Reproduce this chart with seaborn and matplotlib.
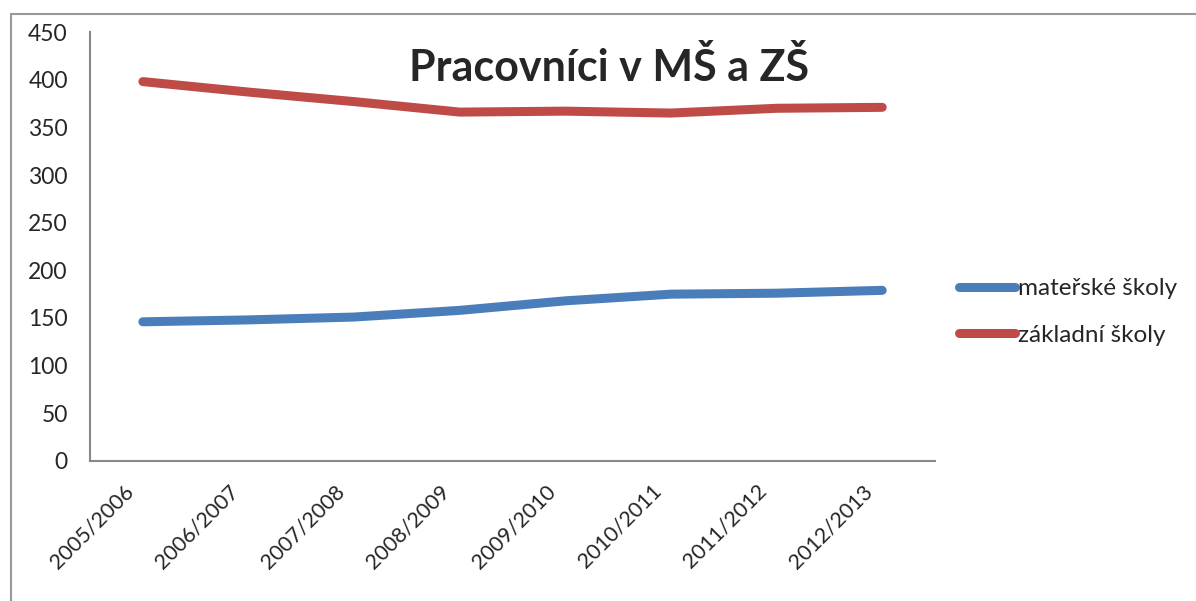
import matplotlib.pyplot as plt
import matplotlib.lines as mlines
import matplotlib.transforms as mtransforms
import numpy as np
import pandas as pd
import seaborn as sns

roky = ["2005/2006", "2006/2007", "2007/2008", "2008/2009",
        "2009/2010", "2010/2011", "2011/2012", "2012/2013"]
materske = [146, 148, 151, 158, 168, 175, 176, 179]
zakladni = [398, 387, 377, 366, 367, 365, 370, 371]
serie = ["mateřské školy", "základní školy"]
barvy = ["#4A7EBB", "#BE4B48"]

sns.set_theme(style="white")
plt.rcParams['font.family'] = ['Lato', 'DejaVu Sans']

df = pd.DataFrame({
    "rok": roky * 2,
    "x": list(range(len(roky))) * 2,
    "pocet": materske + zakladni,
    "skola": [serie[0]] * len(roky) + [serie[1]] * len(roky),
})

fig = plt.figure(figsize=(11.96, 6.01), dpi=100)
ax = fig.add_axes([0.0753, 0.233, 0.7065, 0.7137])

sns.lineplot(data=df, x="x", y="pocet", hue="skola", palette=barvy,
             linewidth=6.5, ax=ax, legend=False, solid_capstyle="round")

ax.set_xlim(-0.5, len(roky) - 0.5)
ax.set_ylim(0, 450)
ax.set_yticks(np.arange(0, 451, 50))
ax.set_xticks(range(len(roky)))
ax.set_xticks(np.arange(-0.5, len(roky), 1), minor=True)
ax.tick_params(axis="x", which="major", length=0, labelsize=15.5, pad=10)
ax.tick_params(axis="x", which="minor", length=6, width=1.5, color="#888888", direction="out")
ax.tick_params(axis="y", length=6, width=1.5, color="#888888", direction="out", labelsize=16.5, pad=10)
ax.set_xticklabels(roky, rotation=45, ha="right", rotation_mode="anchor")
# posun popisku doleva jako v Excelu
posun = mtransforms.ScaledTranslation(-20 / 100, -6 / 100, fig.dpi_scale_trans)
for lbl in ax.get_xticklabels():
    lbl.set_transform(lbl.get_transform() + posun)
ax.set_xlabel("")
ax.set_ylabel("")
for s in ["top", "right"]:
    ax.spines[s].set_visible(False)
for s in ["left", "bottom"]:
    ax.spines[s].set_color("#888888")
    ax.spines[s].set_linewidth(1.5)

fig.text(0.509, 0.888, "Pracovníci v MŠ a ZŠ", ha="center", va="center",
         fontsize=31, fontweight="bold")

handles = [mlines.Line2D([], [], color=c, linewidth=6.5, solid_capstyle="round") for c in barvy]
fig.legend(handles, serie, loc="center left", bbox_to_anchor=(0.7837, 0.481),
           frameon=False, fontsize=17.5, handlelength=2.3, handletextpad=0.1,
           labelspacing=1.05)

# okraj grafu
fig.add_artist(mlines.Line2D([0.0092, 1.0], [0.977, 0.977], color="#999999", linewidth=1.5))
fig.add_artist(mlines.Line2D([0.0092, 0.0092], [0.0, 0.977], color="#999999", linewidth=1.5))

fig.savefig("out.png", dpi=100)
